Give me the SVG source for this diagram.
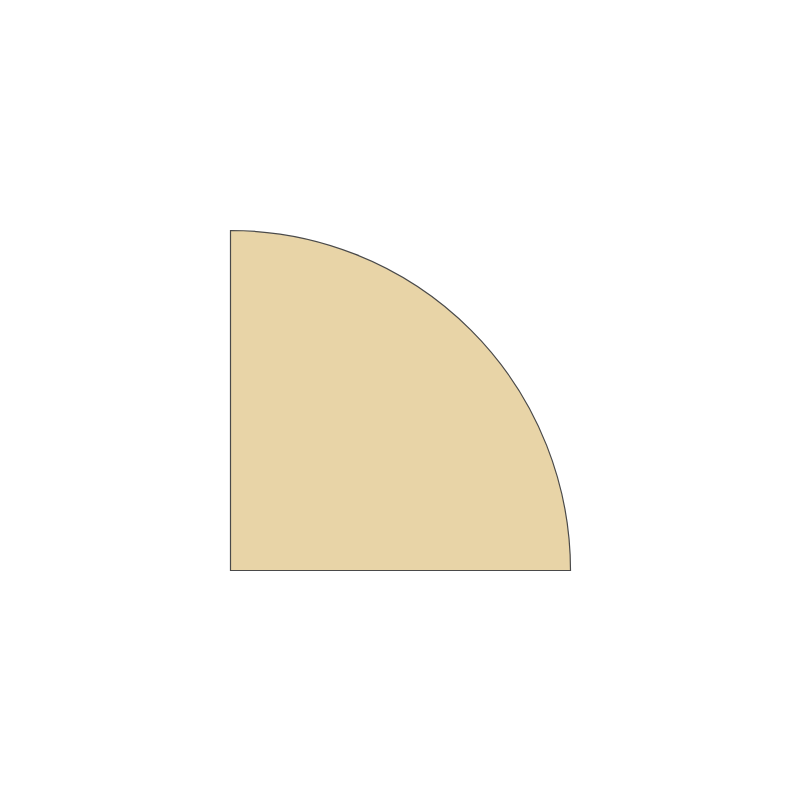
<svg xmlns="http://www.w3.org/2000/svg" width="800" height="800" viewBox="0 0 800 800">
<style>.shape{fill:#E8D4A7;stroke:#4a4a4a;stroke-width:1.2}</style>
<rect width="800" height="800" fill="#ffffff"/>
<g id="quarter">
<path class="shape" d="M230.5 230.5 A340 340 0 0 1 570.5 570.5 L230.5 570.5 Z"/>
</g>
</svg>
